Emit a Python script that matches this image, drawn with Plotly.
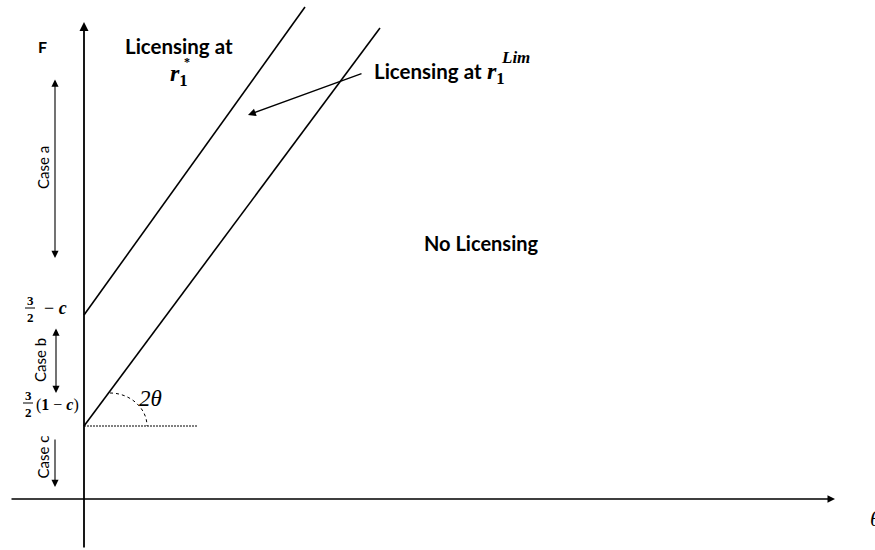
import plotly.graph_objects as go

# Diagram units: theta along the horizontal axis, F along the vertical axis,
# origin where the two axes cross.
theta_axis = [-74, 751]          # horizontal axis extent (arrow at the right)
F_axis = [-50, 477]              # vertical axis extent (arrow at the top)

upper_theta = [0, 221]           # boundary for licensing at r1*
upper_F = [184, 492]
lower_theta = [0, 296]           # boundary for licensing at r1^Lim
lower_F = [73, 471]

ref_theta = [0, 113]             # horizontal reference for the 2θ angle
ref_F = [73, 73]

case_names = ["Case a", "Case b", "Case c"]
case_top = [421, 172, 61]
case_bottom = [241, 106, 12]

BLACK = "#000000"
SANS = "Lato, 'Open Sans', sans-serif"
SERIF = "'Liberation Serif', 'DejaVu Serif', serif"

fig = go.Figure()

# the two boundary lines
fig.add_trace(go.Scatter(x=upper_theta, y=upper_F, mode="lines",
                         line=dict(color=BLACK, width=1.6), hoverinfo="skip"))
fig.add_trace(go.Scatter(x=lower_theta, y=lower_F, mode="lines",
                         line=dict(color=BLACK, width=1.6), hoverinfo="skip"))
# dotted horizontal reference
fig.add_trace(go.Scatter(x=ref_theta, y=ref_F, mode="lines",
                         line=dict(color=BLACK, width=1, dash="2px,1px"),
                         hoverinfo="skip"))

ann = []

def arrow(x0, y0, x1, y1, width=1.5, both=False, head=2, size=1.0):
    ann.append(dict(x=x1, y=y1, ax=x0, ay=y0, xref="x", yref="y",
                    axref="x", ayref="y", text="", showarrow=True,
                    arrowhead=head, arrowsize=size, arrowwidth=width,
                    arrowcolor=BLACK, standoff=0, startstandoff=0,
                    startarrowhead=head, startarrowsize=size,
                    arrowside="end+start" if both else "end"))

def label(x, y, text, size=16, family=SANS, angle=0, xanchor="center"):
    ann.append(dict(x=x, y=y, xref="x", yref="y", text=text, showarrow=False,
                    font=dict(family=family, size=size, color=BLACK),
                    textangle=angle, xanchor=xanchor, yanchor="middle"))

# axes with arrowheads
arrow(0, F_axis[0], 0, F_axis[1], width=1.8)
arrow(theta_axis[0], 0, theta_axis[1], 0, width=1.5)

# case brackets on the F axis
case_x = [-29, -28, -29]
case_lx = [-41, -44, -42]
for i, name in enumerate(case_names):
    both = i < 2
    arrow(case_x[i], case_top[i], case_x[i], case_bottom[i], width=1.1,
          both=both, size=1.3)
    label(case_lx[i], (case_top[i] + case_bottom[i]) / 2 + (5 if i == 2 else 0),
          name, size=15, angle=-90)

# pointer to the r1* boundary
arrow(279, 426, 164, 384, width=1.3, size=1.2)

# region labels
label(-42, 453, "<b>F</b>", size=16)
label(95, 453, "<b>Licensing at</b>", size=20.5)
label(95, 424, "<b><i>r</i><sub>1</sub></b>", size=24, family=SERIF)
label(103, 437, "<b>*</b>", size=12, family=SERIF)

label(288, 428, "<b>Licensing at</b>", size=20.5, xanchor="left")
label(401, 426, "<b><i>r</i><sub>1</sub></b>", size=24, family=SERIF, xanchor="left")
label(415, 442, "<b><i>Lim</i></b>", size=17, family=SERIF, xanchor="left")

label(397, 256, "<b>No Licensing</b>", size=20)

# intercept labels
label(-54, 199, "<b>3</b>", size=13, family=SERIF)
label(-54, 182, "<b>2</b>", size=13, family=SERIF)
label(-29, 191, "− <b><i>c</i></b>", size=18, family=SERIF)
label(-56, 104, "<b>3</b>", size=13, family=SERIF)
label(-56, 87, "<b>2</b>", size=13, family=SERIF)
label(-27, 94, "(<b>1</b> − <b><i>c</i></b>)", size=16, family=SERIF)

# angle label and axis name
label(66, 101, "<i>2θ</i>", size=23, family=SERIF)
label(784, -19, "<i>θ</i>", size=22, family=SERIF, xanchor="left")

fig.update_layout(annotations=ann)

# fraction bars and the angle arc
fig.add_shape(type="line", x0=-59, x1=-49, y0=191, y1=191, xref="x", yref="y",
              line=dict(color=BLACK, width=1))
fig.add_shape(type="line", x0=-61, x1=-51, y0=96, y1=96, xref="x", yref="y",
              line=dict(color=BLACK, width=1))
fig.add_shape(type="path", xref="x", yref="y",
              path="M 26 106 C 46 106, 63 91, 63 73",
              line=dict(color=BLACK, width=1, dash="dot"))

fig.update_layout(
    width=875, height=550,
    margin=dict(l=0, r=0, t=0, b=0),
    paper_bgcolor="white", plot_bgcolor="white",
    showlegend=False,
    xaxis=dict(range=[-84, 791], visible=False, fixedrange=True),
    yaxis=dict(range=[-51, 499], visible=False, fixedrange=True),
)

fig.write_html("out.html")
